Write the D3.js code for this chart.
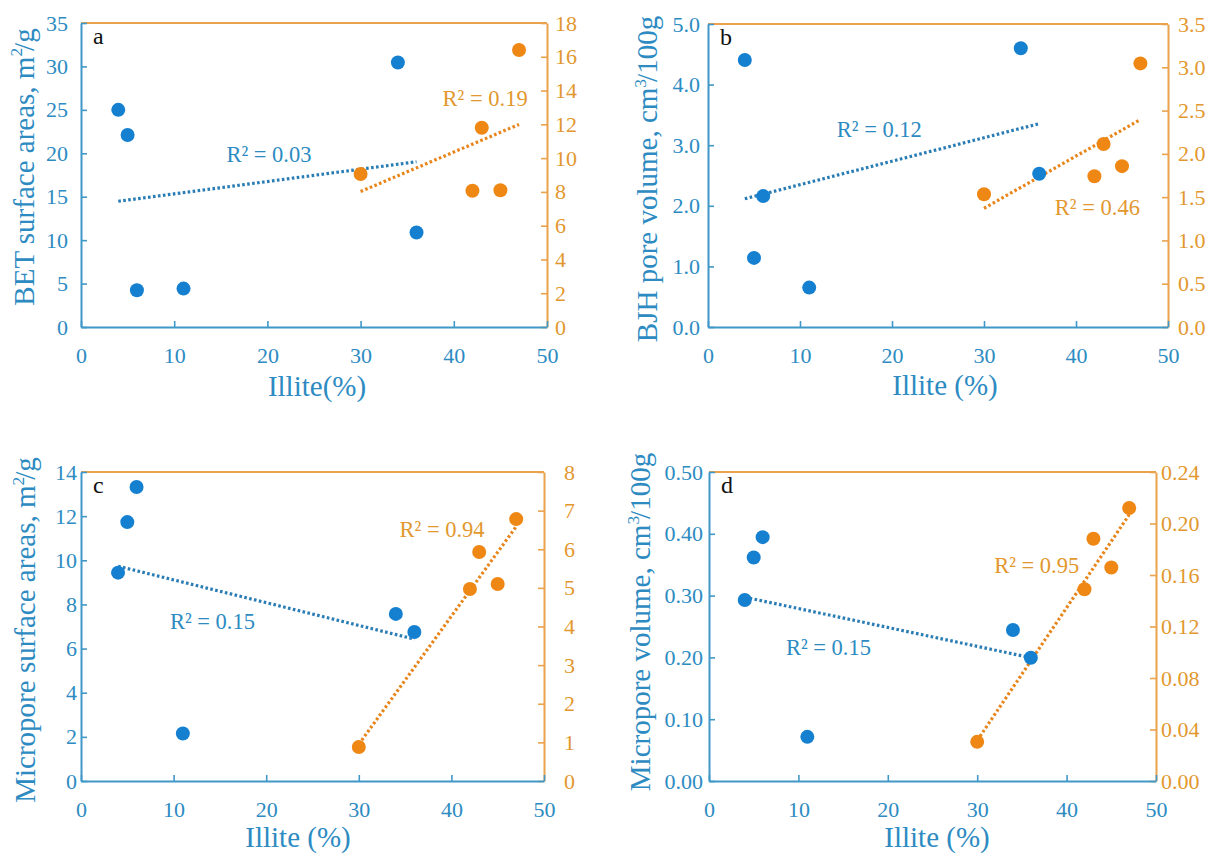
<!DOCTYPE html>
<html>
<head>
<meta charset="utf-8">
<script src="https://cdn.jsdelivr.net/npm/d3@7"></script>
<style>
  html, body { margin: 0; padding: 0; background: #ffffff; }
  svg { display: block; }
  text { font-family: "Liberation Serif", "Times New Roman", serif; }
</style>
</head>
<body>
<svg id="chart" width="1211" height="857"></svg>
<script>
// ---------------- DATA ----------------
const illiteBlue   = [4, 5, 6, 11, 34, 36];
const illiteOrange = [30, 42, 43, 45, 47];

// (a) BET surface areas, m2/g
const betBlue    = [25.0, 22.1, 4.23, 4.42, 30.46, 10.88];
const betOrange  = [9.06, 8.07, 11.8, 8.1, 16.4];
// (b) BJH pore volume, cm3/100g
const bjhBlue    = [4.405, 1.14, 2.16, 0.65, 4.60, 2.53];
const bjhOrange  = [1.534, 1.742, 2.113, 1.858, 3.045];
// (c) Micropore surface areas, m2/g
const microSaBlue   = [9.44, 11.73, 13.32, 2.15, 7.57, 6.75];
const microSaOrange = [0.88, 4.97, 5.93, 5.10, 6.78];
// (d) Micropore volume, cm3/100g
const microVBlue   = [0.293, 0.3616, 0.3946, 0.0714, 0.2443, 0.1995];
const microVOrange = [0.0304, 0.1489, 0.1881, 0.1658, 0.212];

// R² values
const r2Labels = { a: ["0.03", "0.19"], b: ["0.12", "0.46"], c: ["0.15", "0.94"], d: ["0.15", "0.95"] };

// Tick values
const xTicks = [0, 10, 20, 30, 40, 50];
const aLeftTicks  = [0, 5, 10, 15, 20, 25, 30, 35];
const aRightTicks = [0, 2, 4, 6, 8, 10, 12, 14, 16, 18];
const bLeftTicks  = [0, 1, 2, 3, 4, 5];
const bRightTicks = [0, 0.5, 1, 1.5, 2, 2.5, 3, 3.5];
const cLeftTicks  = [0, 2, 4, 6, 8, 10, 12, 14];
const cRightTicks = [0, 1, 2, 3, 4, 5, 6, 7, 8];
const dLeftTicks  = [0, 0.1, 0.2, 0.3, 0.4, 0.5];
const dRightTicks = [0, 0.04, 0.08, 0.12, 0.16, 0.20, 0.24];

// ---------------- STYLE ----------------
const BLUE_PT = "#1580d0", ORANGE_PT = "#ef8714";
const BLUE_AX = "#3f98c8", ORANGE_AX = "#eaa24c";
const BLUE_TXT = "#2d8bc2", ORANGE_TXT = "#e2982f";
const BLUE_TR = "#2a7db4", ORANGE_TR = "#e8851a";

const panels = [
  { id: "a", letter: "a", box: [81, 547, 23, 327],
    yL: [0, 35], yR: [0, 18], lt: aLeftTicks, rt: aRightTicks, lf: d3.format("d"), rf: d3.format("d"),
    blue: betBlue, orange: betOrange,
    ytitle: ["BET surface areas, m", "2", "/g"], ytX: 33.5, ytY: 167,
    xtitle: "Illite(%)", xtX: 317, xtDy: 69, lPad: 13, rPad: 8,
    lblB: [15.6, 19.0], lblO: [38.8, 13.1] },
  { id: "b", letter: "b", box: [708, 1168, 24, 327],
    yL: [0, 5], yR: [0, 3.5], lt: bLeftTicks, rt: bRightTicks, lf: d3.format(".1f"), rf: d3.format(".1f"),
    blue: bjhBlue, orange: bjhOrange,
    ytitle: ["BJH pore volume, cm", "3", "/100g"], ytX: 657, ytY: 179,
    xtitle: "Illite (%)", xtX: 945, xtDy: 68, lPad: 8, rPad: 10,
    lblB: [14.0, 3.135], lblO: [37.7, 1.294] },
  { id: "c", letter: "c", box: [81, 544, 472, 781],
    yL: [0, 14], yR: [0, 8], lt: cLeftTicks, rt: cRightTicks, lf: d3.format("d"), rf: d3.format("d"),
    blue: microSaBlue, orange: microSaOrange,
    ytitle: ["Micropore surface areas, m", "2", "/g"], ytX: 35, ytY: 630,
    xtitle: "Illite (%)", xtX: 298, xtDy: 66, lPad: 4, rPad: 20,
    lblB: [9.6, 6.89], lblO: [34.4, 6.32] },
  { id: "d", letter: "d", box: [709, 1156, 472, 781],
    yL: [0, 0.5], yR: [0, 0.24], lt: dLeftTicks, rt: dRightTicks, lf: d3.format(".2f"), rf: d3.format(".2f"),
    blue: microVBlue, orange: microVOrange,
    ytitle: ["Micropore volume, cm", "3", "/100g"], ytX: 650, ytY: 622,
    xtitle: "Illite (%)", xtX: 937, xtDy: 66, lPad: 6, rPad: 5,
    lblB: [8.6, 0.204], lblO: [31.9, 0.1616] }
];

function linfit(xs, ys) {
  const n = xs.length, mx = d3.mean(xs), my = d3.mean(ys);
  let sxy = 0, sxx = 0;
  for (let i = 0; i < n; i++) { sxy += (xs[i] - mx) * (ys[i] - my); sxx += (xs[i] - mx) ** 2; }
  const m = sxy / sxx;
  return x => my + m * (x - mx);
}

const svg = d3.select("#chart");
const TICK_FS = 22, TITLE_FS = 29, R2_FS = 22.5;
const SERIF = '"Liberation Serif", "Times New Roman", serif';

panels.forEach(p => {
  const [L, R, T, B] = p.box;
  const x = d3.scaleLinear().domain([0, 50]).range([L, R]);
  const yl = d3.scaleLinear().domain(p.yL).range([B, T]);
  const yr = d3.scaleLinear().domain(p.yR).range([B, T]);
  const g = svg.append("g");

  // top border (orange)
  g.append("line").attr("x1", L).attr("x2", R).attr("y1", T).attr("y2", T)
    .attr("stroke", ORANGE_AX).attr("stroke-width", 2);

  // right axis
  const ra = g.append("g").attr("transform", `translate(${R},0)`)
    .call(d3.axisRight(yr).tickValues(p.rt).tickFormat(p.rf).tickSizeInner(-6).tickSizeOuter(0).tickPadding(p.rPad));
  ra.attr("font-family", SERIF);
  ra.select(".domain").attr("stroke", ORANGE_AX).attr("stroke-width", 2);
  ra.selectAll(".tick line").attr("stroke", ORANGE_AX).attr("stroke-width", 1.6);
  ra.selectAll(".tick text").attr("fill", ORANGE_TXT).attr("font-size", TICK_FS);

  // left axis
  const la = g.append("g").attr("transform", `translate(${L},0)`)
    .call(d3.axisLeft(yl).tickValues(p.lt).tickFormat(p.lf).tickSizeInner(-6).tickSizeOuter(0).tickPadding(p.lPad));
  la.attr("font-family", SERIF);
  la.select(".domain").attr("stroke", BLUE_AX).attr("stroke-width", 2);
  la.selectAll(".tick line").attr("stroke", BLUE_AX).attr("stroke-width", 1.6);
  la.selectAll(".tick text").attr("fill", BLUE_TXT).attr("font-size", TICK_FS);

  // bottom axis
  const ba = g.append("g").attr("transform", `translate(0,${B})`)
    .call(d3.axisBottom(x).tickValues(xTicks).tickFormat(d3.format("d")).tickSizeInner(-6).tickSizeOuter(0).tickPadding(20));
  ba.attr("font-family", SERIF);
  ba.select(".domain").attr("stroke", BLUE_AX).attr("stroke-width", 2);
  ba.selectAll(".tick line").attr("stroke", BLUE_AX).attr("stroke-width", 1.6);
  ba.selectAll(".tick text").attr("fill", BLUE_TXT).attr("font-size", TICK_FS);

  // trend lines (least-squares fits of each series)
  const fb = linfit(illiteBlue, p.blue);
  const fo = linfit(illiteOrange, p.orange);
  const bx = d3.extent(illiteBlue), ox = d3.extent(illiteOrange);
  const line = d3.line();
  g.append("path").attr("d", line(bx.map(v => [x(v), yl(fb(v))])))
    .attr("stroke", BLUE_TR).attr("stroke-width", 3.2).attr("stroke-dasharray", "2.6,2.4").attr("fill", "none");
  g.append("path").attr("d", line(ox.map(v => [x(v), yr(fo(v))])))
    .attr("stroke", ORANGE_TR).attr("stroke-width", 3.2).attr("stroke-dasharray", "2.6,2.4").attr("fill", "none");

  // points
  g.selectAll(".pb").data(illiteBlue).enter().append("circle")
    .attr("cx", (d) => x(d)).attr("cy", (d, i) => yl(p.blue[i])).attr("r", 7).attr("fill", BLUE_PT);
  g.selectAll(".po").data(illiteOrange).enter().append("circle")
    .attr("cx", (d) => x(d)).attr("cy", (d, i) => yr(p.orange[i])).attr("r", 7).attr("fill", ORANGE_PT);

  // R² labels
  g.append("text").attr("x", x(p.lblB[0])).attr("y", yl(p.lblB[1]))
    .attr("fill", BLUE_TXT).attr("font-size", R2_FS).text("R² = " + r2Labels[p.id][0]);
  g.append("text").attr("x", x(p.lblO[0])).attr("y", yr(p.lblO[1]))
    .attr("fill", ORANGE_TXT).attr("font-size", R2_FS).text("R² = " + r2Labels[p.id][1]);

  // panel letter
  g.append("text").attr("x", L + 12).attr("y", T + 21).attr("fill", "#111")
    .attr("font-size", 24).text(p.letter);

  // y title
  const yt = g.append("text").attr("transform", `translate(${p.ytX},${p.ytY}) rotate(-90)`)
    .attr("text-anchor", "middle").attr("fill", BLUE_TXT).attr("font-size", TITLE_FS);
  yt.append("tspan").text(p.ytitle[0]);
  yt.append("tspan").attr("font-size", TITLE_FS * 0.6).attr("dy", -TITLE_FS * 0.38).text(p.ytitle[1]);
  yt.append("tspan").attr("dy", TITLE_FS * 0.38).attr("dx", -3).text(p.ytitle[2]);

  // x title
  g.append("text").attr("x", p.xtX).attr("y", B + p.xtDy).attr("text-anchor", "middle")
    .attr("fill", BLUE_TXT).attr("font-size", TITLE_FS).text(p.xtitle);
});
</script>
</body>
</html>
